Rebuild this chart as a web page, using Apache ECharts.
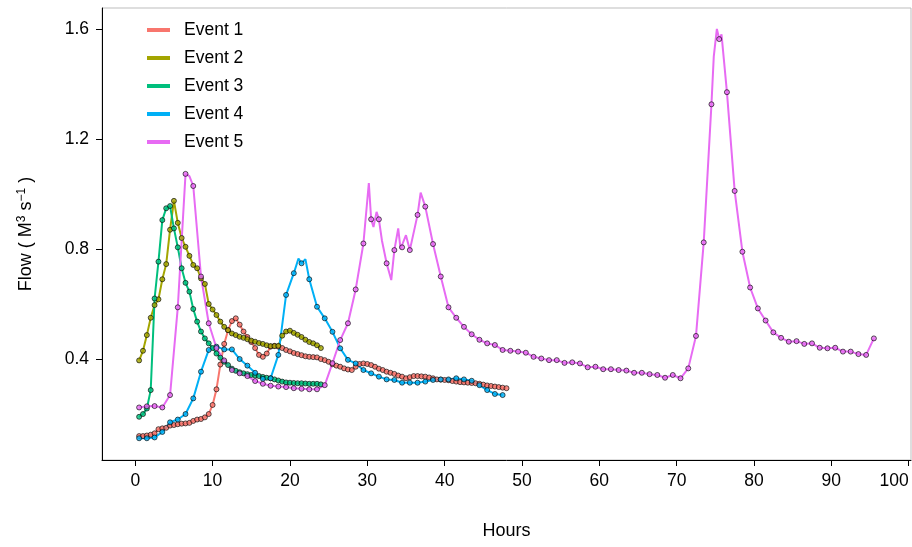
<!DOCTYPE html>
<html><head><meta charset="utf-8">
<script src="https://cdn.jsdelivr.net/npm/echarts@6/dist/echarts.min.js"></script>
<style>html,body{margin:0;padding:0;background:#fff}#c{width:912px;height:547px}</style>
</head><body><div id="c"></div>
<script>
const eventNames = ['Event 1', 'Event 2', 'Event 3', 'Event 4', 'Event 5'];
const eventColors = ['#F8766D', '#A3A500', '#00BF7D', '#00B0F6', '#E76BF3'];
const xTicks = [0, 10, 20, 30, 40, 50, 60, 70, 80, 90, 100];
const yTicks = [0.4, 0.8, 1.2, 1.6];

// Event 1: samples every 0.5 h from 0.5 h
const e1Start = 0.5, e1Step = 0.5;
const e1Flow = [0.12,0.12,0.122,0.125,0.13,0.145,0.148,0.15,0.158,0.16,0.163,0.165,0.166,0.168,0.175,0.18,0.182,0.188,0.20,0.233,
  0.29,0.38,0.455,0.505,0.538,0.548,0.525,0.50,0.48,0.462,0.44,0.415,0.408,0.42,0.445,0.448,0.445,0.44,0.433,0.428,
  0.422,0.418,0.414,0.41,0.408,0.407,0.406,0.40,0.396,0.39,0.381,0.376,0.372,0.366,0.362,0.36,0.372,0.382,0.384,0.382,
  0.378,0.372,0.365,0.36,0.354,0.35,0.346,0.34,0.336,0.33,0.334,0.338,0.338,0.337,0.336,0.333,0.33,0.326,0.325,0.324,
  0.323,0.32,0.318,0.316,0.315,0.314,0.313,0.312,0.31,0.307,0.304,0.302,0.30,0.298,0.296,0.294];
const e1Extra = [];

// Event 2
const e2Start = 0.5, e2Step = 0.5;
const e2Flow = [0.395,0.43,0.487,0.55,0.596,0.617,0.69,0.745,0.87,0.975,0.895,0.84,0.808,0.775,0.742,0.73,0.693,0.673,0.60,0.58,
  0.56,0.536,0.517,0.505,0.493,0.487,0.481,0.477,0.472,0.467,0.463,0.458,0.455,0.45,0.447,0.447,0.448,0.485,0.50,0.503,
  0.495,0.488,0.48,0.47,0.462,0.457,0.45,0.44];
const e2Extra = [];

// Event 3
const e3Start = 0.5, e3Step = 0.5;
const e3Flow = [0.19,0.20,0.22,0.287,0.62,0.754,0.905,0.948,0.956,0.875,0.806,0.73,0.677,0.645,0.582,0.536,0.50,0.475,0.457,0.44,
  0.42,0.405,0.39,0.378,0.365,0.357,0.352,0.348,0.345,0.342,0.34,0.338,0.335,0.332,0.33,0.326,0.322,0.318,0.315,0.314,
  0.313,0.312,0.312,0.311,0.31,0.31,0.31,0.308];
const e3Extra = [];

// Event 4: samples every 1 h from 0.5 h
const e4Start = 0.5, e4Step = 1;
const e4Flow = [0.112,0.112,0.115,0.135,0.17,0.18,0.20,0.257,0.354,0.433,0.445,0.435,0.435,0.40,0.376,0.35,0.328,0.33,0.415,0.633,
  0.712,0.748,0.69,0.59,0.548,0.499,0.439,0.397,0.384,0.36,0.348,0.336,0.326,0.324,0.314,0.314,0.314,0.318,0.324,0.326,
  0.326,0.33,0.326,0.321,0.305,0.287,0.273,0.269];
const e4Extra = [[21.1,0.765],[22.0,0.763]];

// Event 5: samples every 1 h from 0.5 h
const e5Start = 0.5, e5Step = 1;
const e5Flow = [0.224,0.228,0.229,0.224,0.269,0.588,1.073,1.029,0.70,0.53,0.44,0.395,0.36,0.348,0.338,0.32,0.31,0.303,0.30,0.298,
  0.294,0.292,0.29,0.29,0.305,0.385,0.469,0.53,0.653,0.82,0.908,0.908,0.748,0.796,0.806,0.796,0.924,0.954,0.818,0.70,
  0.588,0.55,0.517,0.49,0.47,0.457,0.451,0.433,0.43,0.427,0.423,0.408,0.402,0.396,0.396,0.386,0.388,0.384,0.37,0.372,
  0.363,0.363,0.36,0.358,0.35,0.35,0.345,0.342,0.332,0.342,0.33,0.366,0.484,0.824,1.326,1.563,1.37,1.011,0.79,0.66,
  0.584,0.54,0.497,0.477,0.463,0.465,0.455,0.457,0.441,0.439,0.441,0.427,0.427,0.418,0.415,0.475];
const e5Extra = [[7.0,1.065],[30.2,1.04],[30.8,0.88],[31.2,0.935],[31.9,0.83],[33.1,0.687],[34.0,0.875],[34.3,0.80],
  [35.0,0.85],[36.9,1.005],[74.8,1.5],[75.2,1.6],[75.8,1.58],[76.1,1.49]];

const events = [
  [e1Start, e1Step, e1Flow, e1Extra],
  [e2Start, e2Step, e2Flow, e2Extra],
  [e3Start, e3Step, e3Flow, e3Extra],
  [e4Start, e4Step, e4Flow, e4Extra],
  [e5Start, e5Step, e5Flow, e5Extra]
];

const FONT = 'Liberation Sans, Arial, sans-serif';
const lineSeries = [], pointSeries = [];
events.forEach(([start, step, flow, extra], i) => {
  const samples = flow.map((v, k) => [start + k * step, v]);
  const line = samples.concat(extra).sort((a, b) => a[0] - b[0]);
  lineSeries.push({
    name: eventNames[i], type: 'line', data: line, showSymbol: false, symbol: 'none',
    lineStyle: { color: eventColors[i], width: 2 }, itemStyle: { color: eventColors[i] },
    z: 2, animation: false
  });
  pointSeries.push({
    name: eventNames[i] + ' samples', type: 'scatter', data: samples, symbol: 'circle', symbolSize: 5,
    itemStyle: { color: eventColors[i], borderColor: '#000', borderWidth: 0.8 },
    z: 3, animation: false
  });
});

const chart = echarts.init(document.getElementById('c'), null, { renderer: 'canvas' });
chart.setOption({
  backgroundColor: '#fff',
  animation: false,
  grid: { left: 102, right: 1, top: 8, bottom: 87, containLabel: false, outerBoundsMode: 'none',
    show: true, borderColor: '#bdbdbd', borderWidth: 1 },
  legend: {
    data: eventNames.map(n => ({ name: n, icon: 'rect' })),
    orient: 'vertical', left: 142, top: 15, itemWidth: 23, itemHeight: 4, itemGap: 8,
    textStyle: { fontFamily: FONT, fontSize: 17.5, color: '#000', lineHeight: 20, padding: [0, 0, 0, 9] }
  },
  xAxis: {
    type: 'value', min: -4.3, max: 100.3,
    name: 'Hours', nameLocation: 'middle', nameGap: 62,
    nameTextStyle: { fontFamily: FONT, fontSize: 18, color: '#000' },
    axisLine: { show: true, onZero: false, lineStyle: { color: '#000', width: 1 } },
    axisTick: { show: true, length: 6, customValues: xTicks, lineStyle: { color: '#000' } },
    axisLabel: { customValues: xTicks, fontFamily: FONT, fontSize: 17.5, color: '#000', margin: 12,
      alignMaxLabel: 'right' },
    splitLine: { show: false }
  },
  yAxis: {
    type: 'value', min: 0.033, max: 1.676,
    name: 'Flow ( M{sup|3} s{sup|\u22121} )', nameLocation: 'middle', nameGap: 66, nameRotate: 90,
    nameTextStyle: {
      fontFamily: FONT, fontSize: 18, color: '#000',
      rich: { sup: { fontFamily: FONT, fontSize: 12, color: '#000', verticalAlign: 'top', padding: [0, 0, 8, 0] } }
    },
    axisLine: { show: true, onZero: false, lineStyle: { color: '#000', width: 1 } },
    axisTick: { show: true, length: 6, customValues: yTicks, lineStyle: { color: '#000' } },
    axisLabel: { customValues: yTicks, fontFamily: FONT, fontSize: 17.5, color: '#000', margin: 13,
      formatter: v => v.toFixed(1) },
    splitLine: { show: false }
  },
  series: lineSeries.concat(pointSeries)
});
</script>
</body></html>
